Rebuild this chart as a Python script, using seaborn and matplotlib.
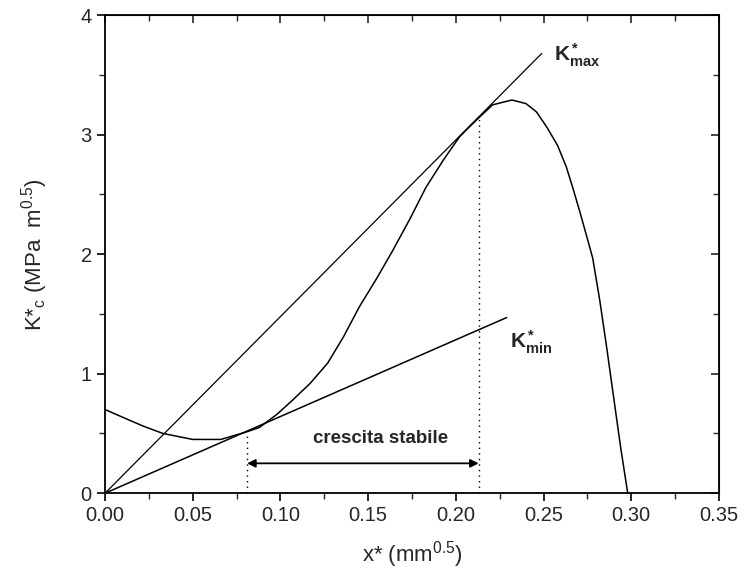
import numpy as np
import pandas as pd
import seaborn as sns
import matplotlib.pyplot as plt
from matplotlib.ticker import MultipleLocator

# curve K*c(x*)
x_curve = [0.0, 0.0125, 0.022, 0.033, 0.05, 0.066, 0.073, 0.080, 0.088, 0.098,
           0.107, 0.117, 0.127, 0.136, 0.145, 0.155, 0.164, 0.174, 0.183, 0.193,
           0.202, 0.206, 0.213, 0.221, 0.232, 0.240, 0.246, 0.252, 0.258, 0.263,
           0.267, 0.271, 0.278, 0.282, 0.286, 0.290, 0.294, 0.298]
k_curve = [0.70, 0.62, 0.56, 0.50, 0.45, 0.45, 0.48, 0.51, 0.55, 0.66,
           0.78, 0.92, 1.09, 1.31, 1.56, 1.80, 2.03, 2.30, 2.56, 2.79,
           2.98, 3.04, 3.14, 3.25, 3.29, 3.26, 3.19, 3.06, 2.91, 2.73,
           2.54, 2.34, 1.97, 1.62, 1.22, 0.80, 0.38, 0.0]

# tangent lines
x_kmax = [0.0, 0.249]
y_kmax = [0.0, 3.68]
x_kmin = [0.0, 0.229]
y_kmin = [0.0, 1.47]

# stable growth range
x_start = 0.081
x_end = 0.213
k_start = 0.51
k_end = 3.14
arrow_y = 0.25

sns.set_style("ticks")
plt.rcParams['font.family'] = ['Liberation Sans', 'DejaVu Sans']
plt.rcParams['mathtext.fontset'] = 'custom'
plt.rcParams['mathtext.rm'] = 'Liberation Sans'
plt.rcParams['mathtext.bf'] = 'Liberation Sans:bold'
plt.rcParams['mathtext.it'] = 'Liberation Sans'

fig = plt.figure(figsize=(7.45, 5.83), dpi=100)
ax = fig.add_axes([0.141, 0.154, 0.824, 0.820])

df = pd.DataFrame({"x": x_curve, "k": k_curve})
sns.lineplot(data=df, x="x", y="k", ax=ax, color="black", linewidth=1.1,
             sort=False, estimator=None)
ax.plot(x_kmax, y_kmax, color="black", linewidth=0.9)
ax.plot(x_kmin, y_kmin, color="black", linewidth=1.1)

ax.vlines([x_start, x_end], 0, [k_start, k_end], colors="black",
          linestyles=(0, (1, 3)), linewidth=1.0)
ax.annotate("", xy=(x_end, arrow_y), xytext=(x_start, arrow_y),
            arrowprops=dict(arrowstyle="<|-|>", color="black", lw=1.3,
                            mutation_scale=12, shrinkA=0, shrinkB=0))
ax.text(0.157, 0.46, "crescita stabile", fontsize=13.5, fontweight="bold",
        ha="center", va="center")
ax.text(0.256, 3.66, r"$\mathbf{K^*_{max}}$", fontsize=15, ha="left", va="center")
ax.text(0.231, 1.26, r"$\mathbf{K^*_{min}}$", fontsize=15, ha="left", va="center")

ax.set_xlim(0, 0.35)
ax.set_ylim(0, 4)
ax.xaxis.set_major_locator(MultipleLocator(0.05))
ax.xaxis.set_minor_locator(MultipleLocator(0.025))
ax.yaxis.set_major_locator(MultipleLocator(1))
ax.yaxis.set_minor_locator(MultipleLocator(0.5))
ax.set_xticklabels([f"{v:.2f}" for v in ax.get_xticks()])
ax.set_yticklabels([f"{v:.0f}" for v in ax.get_yticks()])
ax.tick_params(which="major", direction="out", length=6, width=1.2,
               labelsize=14.5, color="black")
ax.tick_params(which="minor", direction="out", length=4, width=1.0)

for side in ["top", "right"]:
    ax.spines[side].set_visible(True)
for sp in ax.spines.values():
    sp.set_linewidth(1.3)
    sp.set_color("black")

top = ax.secondary_xaxis("top")
top.xaxis.set_major_locator(MultipleLocator(0.05))
top.xaxis.set_minor_locator(MultipleLocator(0.025))
top.tick_params(which="major", direction="in", length=6, width=1.2, labeltop=False)
top.tick_params(which="minor", direction="in", length=4, width=1.0)
right = ax.secondary_yaxis("right")
right.yaxis.set_major_locator(MultipleLocator(1))
right.yaxis.set_minor_locator(MultipleLocator(0.5))
right.tick_params(which="major", direction="in", length=6, width=1.2, labelright=False)
right.tick_params(which="minor", direction="in", length=4, width=1.0)

ax.set_xlabel(r"x* (mm$^{0.5}$)", fontsize=16, labelpad=10)
ax.set_ylabel(r"K*$_c$ (MPa  m$^{0.5}$)", fontsize=16, labelpad=22)

fig.savefig("out.png", dpi=100)
